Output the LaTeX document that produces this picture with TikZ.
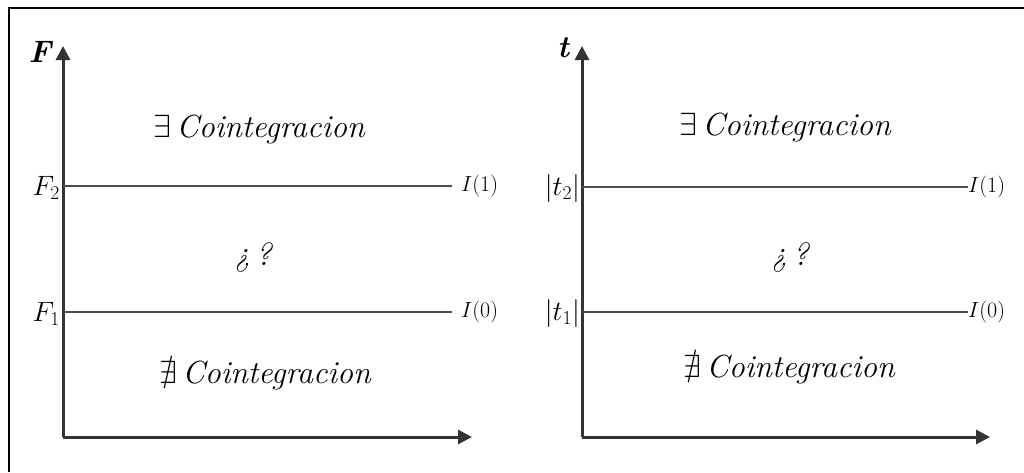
\RequirePackage{fix-cm}
\documentclass[tikz,border=0pt]{standalone}
\usepackage{amsmath,amssymb}
\usetikzlibrary{arrows.meta}
\tikzset{
  frame/.style={draw=black,line width=2pt},
  axis/.style={draw=black!80,line width=3pt,-{Triangle[length=14pt,width=14pt]}},
  level/.style={draw=black!70,line width=2.4pt},
  region/.style={font=\fontsize{32}{36}\selectfont\itshape,inner sep=0pt},
  axlabel/.style={font=\fontsize{31}{34}\selectfont\bfseries\itshape,inner sep=0pt},
  ticklabel/.style={font=\fontsize{28}{32}\selectfont,inner sep=0pt,anchor=east},
  orderlabel/.style={font=\fontsize{22}{26}\selectfont,inner sep=0pt,anchor=west}
}
\begin{document}
\begin{tikzpicture}[x=1pt,y=-1pt]
\useasboundingbox (0,0) rectangle (1024,472);
\coordinate (fa) at (9,472);
\coordinate (fb) at (9,8);
\coordinate (fc) at (1024,8);
\draw[frame] (fa) -- (fb) -- (fc);
% left panel
\coordinate (LO) at (63,437);
\coordinate (LY) at (63,46);
\coordinate (LX) at (472,437);
\draw[axis] (LO) -- (LY);
\draw[axis] (LO) -- (LX);
\node[axlabel] (LF) at (40,52) {F};
\coordinate (L2a) at (63,186);
\coordinate (L2b) at (452,186);
\coordinate (L1a) at (63,312);
\coordinate (L1b) at (452,312);
\draw[level] (L2a) -- (L2b);
\draw[level] (L1a) -- (L1b);
\node[ticklabel] (LF2) at (60,188) {$F_2$};
\node[ticklabel] (LF1) at (60,314) {$F_1$};
\node[orderlabel] (LI1) at (461,186) {$I(1)$};
\node[orderlabel] (LI0) at (461,312) {$I(0)$};
\node[region] (LR1) at (259,129) {$\exists$\,Cointegracion};
\node[region] (LR2) at (253,257) {¿\,?};
\node[region] (LR3) at (265,375) {$\nexists$\,Cointegracion};
% right panel
\coordinate (RO) at (582,437);
\coordinate (RY) at (582,46);
\coordinate (RX) at (990,437);
\draw[axis] (RO) -- (RY);
\draw[axis] (RO) -- (RX);
\node[axlabel] (Rt) at (563,48) {t};
\coordinate (R2a) at (582,187);
\coordinate (R2b) at (968,187);
\coordinate (R1a) at (582,312);
\coordinate (R1b) at (968,312);
\draw[level] (R2a) -- (R2b);
\draw[level] (R1a) -- (R1b);
\node[ticklabel] (Rt2) at (580,188) {$|t_2|$};
\node[ticklabel] (Rt1) at (580,313) {$|t_1|$};
\node[orderlabel] (RI1) at (968,187) {$I(1)$};
\node[orderlabel] (RI0) at (968,312) {$I(0)$};
\node[region] (RR1) at (785,127) {$\exists$\,Cointegracion};
\node[region] (RR2) at (790,257) {¿\,?};
\node[region] (RR3) at (789,369) {$\nexists$\,Cointegracion};
\end{tikzpicture}
\end{document}
